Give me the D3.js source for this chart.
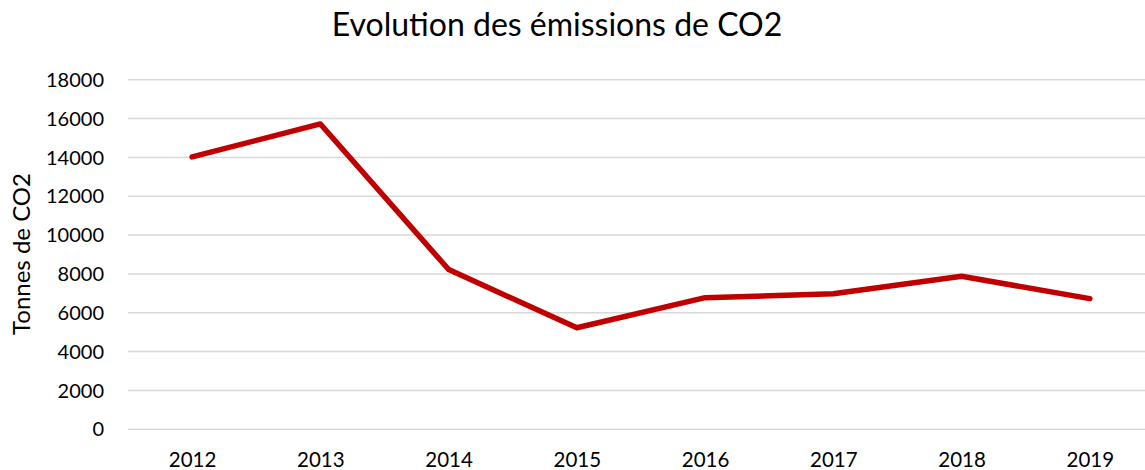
<!DOCTYPE html>
<html>
<head>
<meta charset="utf-8">
<script src="https://cdn.jsdelivr.net/npm/d3@7"></script>
<style>
  body { margin: 0; background: #fff; }
  text { font-family: Lato, "Open Sans", sans-serif; fill: #000; }
</style>
</head>
<body>
<div id="chart"></div>
<script>
// data
var years = ['2012', '2013', '2014', '2015', '2016', '2017', '2018', '2019'];
var emissions = [14000, 15700, 8200, 5200, 6750, 6950, 7850, 6700];
var yTicks = [0, 2000, 4000, 6000, 8000, 10000, 12000, 14000, 16000, 18000];

var width = 1145, height = 470;
var plotLeft = 128, plotRight = 1154, plotTop = 79.3, plotBottom = 428.7;

var svg = d3.select('#chart').append('svg')
    .attr('width', width)
    .attr('height', height);

var x = d3.scalePoint()
    .domain(years)
    .range([plotLeft, plotRight])
    .padding(0.5);

var y = d3.scaleLinear()
    .domain([0, 18000])
    .range([plotBottom, plotTop]);

// gridlines + y labels
var yAxis = svg.append('g')
    .attr('transform', 'translate(' + plotLeft + ',0)')
    .call(d3.axisLeft(y).tickValues(yTicks).tickSize(-(plotRight - plotLeft)).tickPadding(24).tickFormat(d3.format('d')));
yAxis.select('.domain').remove();
yAxis.selectAll('.tick line').attr('stroke', '#d9d9d9').attr('stroke-width', 1.5);
yAxis.selectAll('.tick text')
    .style('font-size', '20px')
    .attr('dy', '0.36em');

// x labels
var xAxis = svg.append('g')
    .attr('transform', 'translate(0,' + plotBottom + ')')
    .call(d3.axisBottom(x).tickSize(0).tickPadding(24));
xAxis.select('.domain').remove();
xAxis.selectAll('.tick text')
    .style('font-size', '20.5px');

// the line
var line = d3.line()
    .x(function(d, i) { return x(years[i]); })
    .y(function(d) { return y(d); });

svg.append('path')
    .datum(emissions)
    .attr('d', line)
    .attr('fill', 'none')
    .attr('stroke', '#c00000')
    .attr('stroke-width', 5.5)
    .attr('stroke-linejoin', 'round')
    .attr('stroke-linecap', 'round');

// title
svg.append('text')
    .attr('x', 557)
    .attr('y', 36)
    .attr('text-anchor', 'middle')
    .style('font-size', '32px')
    .text('Evolution des émissions de CO2');

// y axis title
svg.append('text')
    .attr('transform', 'translate(22,254) rotate(-90)')
    .attr('text-anchor', 'middle')
    .attr('dy', '0.35em')
    .style('font-size', '24px')
    .text('Tonnes de CO2');
</script>
</body>
</html>
